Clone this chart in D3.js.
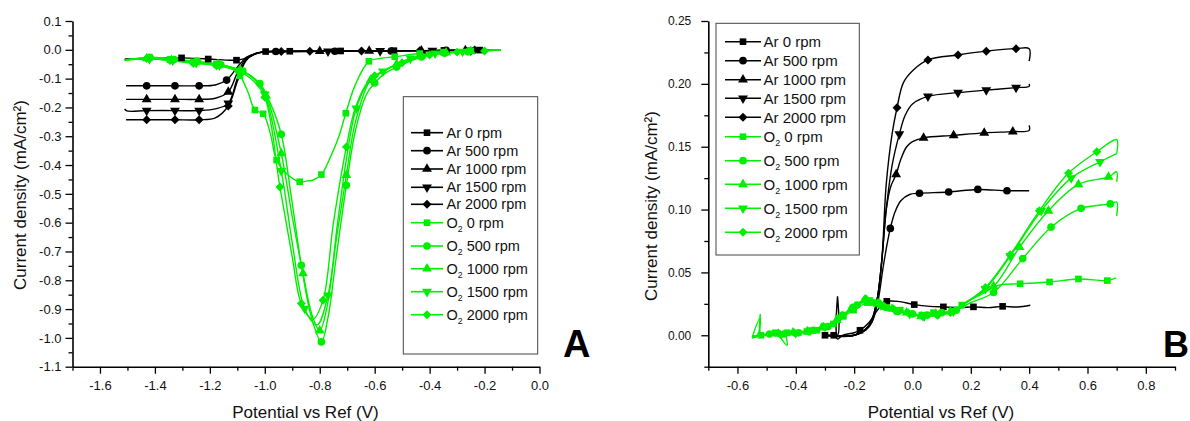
<!DOCTYPE html>
<html><head><meta charset="utf-8">
<script src="https://cdn.jsdelivr.net/npm/d3@7"></script>
<style>
html,body{margin:0;padding:0;background:#fff;}
svg{display:block;font-family:"Liberation Sans",Arial,Helvetica,sans-serif;}
</style></head><body>
<svg id="chart" width="1190" height="421"></svg>
<script>
// ---------------- DATA ----------------
// legend entries (gas, rotation rate)
const legendGas = ["Ar","Ar","Ar","Ar","Ar","O2","O2","O2","O2","O2"];
const legendRpm = ["0 rpm","500 rpm","1000 rpm","1500 rpm","2000 rpm","0 rpm","500 rpm","1000 rpm","1500 rpm","2000 rpm"];

// tick values
const aXTicks = [-1.6,-1.4,-1.2,-1.0,-0.8,-0.6,-0.4,-0.2,0.0];
const aXMinor = [-1.7,-1.5,-1.3,-1.1,-0.9,-0.7,-0.5,-0.3,-0.1];
const aYTicks = [0.1,0.0,-0.1,-0.2,-0.3,-0.4,-0.5,-0.6,-0.7,-0.8,-0.9,-1.0,-1.1];
const aYMinor = [0.05,-0.05,-0.15,-0.25,-0.35,-0.45,-0.55,-0.65,-0.75,-0.85,-0.95,-1.05];
const bXTicks = [-0.6,-0.4,-0.2,0.0,0.2,0.4,0.6,0.8];
const bXMinor = [-0.7,-0.5,-0.3,-0.1,0.1,0.3,0.5,0.7,0.9];
const bYTicks = [0.00,0.05,0.10,0.15,0.20,0.25];
const bYMinor = [-0.025,0.025,0.075,0.125,0.175,0.225];

// Panel A series: [potential V, current mA/cm2, marker flag]
const aAr0 = [[-1.51,-0.032,0],[-1.40,-0.030,0],[-1.303,-0.028,1],[-1.206,-0.032,1],[-1.103,-0.036,1],[-1.065,-0.028,0],[-1.03,-0.013,0],[-0.997,-0.006,1],[-0.909,-0.005,1],[-0.82,-0.005,0],[-0.724,-0.004,1],[-0.63,-0.004,0],[-0.53,-0.003,1],[-0.44,-0.003,0],[-0.348,-0.002,1],[-0.218,-0.001,1],[-0.16,0.0,0]];
const aAr500 = [[-1.505,-0.125,0],[-1.43,-0.125,1],[-1.327,-0.125,1],[-1.239,-0.125,1],[-1.18,-0.122,0],[-1.139,-0.105,1],[-1.10,-0.060,0],[-1.066,-0.025,0],[-1.03,-0.012,0],[-1.0,-0.007,0],[-0.96,-0.006,1],[-0.86,-0.005,0],[-0.745,-0.005,1],[-0.64,-0.004,0],[-0.54,-0.004,1],[-0.44,-0.003,0],[-0.34,-0.002,1],[-0.16,0.0,0]];
const aAr1000 = [[-1.505,-0.172,0],[-1.43,-0.172,1],[-1.327,-0.172,1],[-1.239,-0.172,1],[-1.18,-0.168,0],[-1.133,-0.146,1],[-1.10,-0.080,0],[-1.068,-0.030,0],[-1.03,-0.012,0],[-1.0,-0.007,0],[-0.93,-0.006,0],[-0.80,-0.005,1],[-0.62,-0.004,1],[-0.43,-0.003,1],[-0.27,-0.002,1],[-0.16,0.0,0]];
const aAr1500 = [[-1.51,-0.205,0],[-1.503,-0.212,0],[-1.43,-0.211,1],[-1.327,-0.211,1],[-1.239,-0.211,1],[-1.18,-0.205,0],[-1.133,-0.186,1],[-1.10,-0.100,0],[-1.068,-0.035,0],[-1.035,-0.014,0],[-1.0,-0.007,0],[-0.90,-0.006,0],[-0.77,-0.005,1],[-0.58,-0.004,1],[-0.39,-0.003,1],[-0.25,-0.002,1],[-0.16,0.0,0]];
const aAr2000 = [[-1.505,-0.243,0],[-1.43,-0.243,1],[-1.327,-0.243,1],[-1.239,-0.243,1],[-1.18,-0.236,0],[-1.133,-0.195,1],[-1.10,-0.110,0],[-1.07,-0.040,0],[-1.04,-0.015,0],[-1.0,-0.007,0],[-0.94,-0.006,1],[-0.836,-0.005,1],[-0.648,-0.004,1],[-0.436,-0.003,1],[-0.236,-0.001,1],[-0.16,0.0,0]];
const aO20 = [[-1.51,-0.036,0],[-1.42,-0.028,1],[-1.345,-0.033,1],[-1.26,-0.042,1],[-1.176,-0.050,1],[-1.12,-0.065,0],[-1.09,-0.090,1],[-1.06,-0.150,0],[-1.036,-0.209,1],[-1.006,-0.222,1],[-0.98,-0.290,0],[-0.957,-0.383,1],[-0.92,-0.430,0],[-0.873,-0.458,1],[-0.845,-0.455,0],[-0.824,-0.452,0],[-0.794,-0.433,1],[-0.76,-0.370,0],[-0.73,-0.300,0],[-0.705,-0.220,1],[-0.67,-0.120,0],[-0.621,-0.040,1],[-0.58,-0.030,0],[-0.527,-0.024,1],[-0.436,-0.013,1],[-0.35,-0.008,1],[-0.25,-0.004,1],[-0.14,0.0,0]];
const aO2500 = [[-1.51,-0.036,0],[-1.418,-0.026,1],[-1.33,-0.034,1],[-1.245,-0.040,1],[-1.16,-0.052,1],[-1.08,-0.075,1],[-1.018,-0.117,1],[-0.98,-0.185,0],[-0.94,-0.293,1],[-0.905,-0.500,0],[-0.867,-0.748,1],[-0.83,-0.930,0],[-0.794,-1.014,1],[-0.77,-0.930,0],[-0.74,-0.720,0],[-0.703,-0.470,1],[-0.67,-0.280,0],[-0.63,-0.155,0],[-0.60,-0.115,1],[-0.56,-0.080,0],[-0.52,-0.060,1],[-0.43,-0.025,1],[-0.345,-0.012,1],[-0.26,-0.007,1],[-0.14,0.0,0]];
const aO21000 = [[-1.51,-0.034,0],[-1.43,-0.030,1],[-1.34,-0.036,1],[-1.255,-0.044,1],[-1.17,-0.050,1],[-1.09,-0.070,1],[-1.04,-0.100,0],[-0.995,-0.160,1],[-0.94,-0.360,1],[-0.90,-0.580,0],[-0.861,-0.776,1],[-0.825,-0.930,0],[-0.80,-0.975,1],[-0.775,-0.900,0],[-0.74,-0.660,0],[-0.703,-0.435,1],[-0.67,-0.250,0],[-0.615,-0.105,1],[-0.56,-0.070,0],[-0.52,-0.050,1],[-0.43,-0.020,1],[-0.34,-0.010,1],[-0.25,-0.005,1],[-0.14,0.0,0]];
const aO21500 = [[-1.51,-0.035,0],[-1.42,-0.032,1],[-1.335,-0.037,1],[-1.25,-0.045,1],[-1.165,-0.053,1],[-1.085,-0.072,1],[-1.04,-0.100,0],[-1.0,-0.155,1],[-0.94,-0.420,1],[-0.90,-0.670,0],[-0.855,-0.898,1],[-0.81,-0.955,0],[-0.77,-0.852,1],[-0.735,-0.600,0],[-0.703,-0.380,0],[-0.667,-0.203,1],[-0.62,-0.110,0],[-0.57,-0.075,1],[-0.47,-0.030,1],[-0.38,-0.012,1],[-0.28,-0.006,1],[-0.14,0.0,0]];
const aO22000 = [[-1.51,-0.036,0],[-1.43,-0.030,1],[-1.345,-0.037,1],[-1.26,-0.047,1],[-1.176,-0.055,1],[-1.095,-0.075,1],[-1.045,-0.105,0],[-1.0,-0.165,1],[-0.945,-0.476,1],[-0.90,-0.720,0],[-0.867,-0.881,1],[-0.825,-0.935,0],[-0.788,-0.869,1],[-0.75,-0.600,0],[-0.703,-0.337,1],[-0.67,-0.200,0],[-0.62,-0.105,0],[-0.60,-0.090,1],[-0.50,-0.045,1],[-0.40,-0.018,1],[-0.30,-0.008,1],[-0.20,-0.004,1],[-0.14,0.0,0]];

// Panel B series
const bAr0 = [[-0.30,0.0,1],[-0.27,0.0,1],[-0.257,0.0,0],[-0.257,0.031,0],[-0.257,-0.003,0],[-0.24,0.0,0],[-0.20,0.002,0],[-0.18,0.004,1],[-0.15,0.010,0],[-0.12,0.020,0],[-0.10,0.026,0],[-0.088,0.027,1],[-0.05,0.027,0],[0.006,0.0244,1],[0.06,0.023,0],[0.106,0.0226,1],[0.16,0.022,0],[0.209,0.0226,1],[0.26,0.022,0],[0.309,0.023,1],[0.36,0.0225,0],[0.404,0.0239,0]];
const bAr500 = [[-0.30,0.0,0],[-0.25,-0.001,0],[-0.20,0.0,0],[-0.17,0.003,0],[-0.14,0.010,0],[-0.12,0.025,0],[-0.10,0.055,0],[-0.085,0.075,0],[-0.076,0.085,1],[-0.06,0.098,0],[-0.04,0.107,0],[-0.01,0.112,0],[0.024,0.113,1],[0.124,0.114,1],[0.224,0.116,1],[0.324,0.115,1],[0.40,0.115,0]];
const bAr1000 = [[-0.30,0.0,0],[-0.20,0.0,0],[-0.16,0.004,0],[-0.14,0.010,0],[-0.12,0.030,0],[-0.105,0.060,0],[-0.09,0.100,0],[-0.075,0.118,0],[-0.056,0.128,1],[-0.04,0.140,0],[-0.02,0.150,0],[0.0,0.154,0],[0.038,0.157,1],[0.141,0.159,1],[0.246,0.161,1],[0.344,0.162,1],[0.40,0.163,0],[0.40,0.167,0]];
const bAr1500 = [[-0.30,0.0,0],[-0.20,0.0,0],[-0.16,0.005,0],[-0.14,0.012,0],[-0.12,0.030,0],[-0.105,0.060,0],[-0.09,0.100,0],[-0.07,0.135,0],[-0.045,0.160,1],[-0.025,0.175,0],[0.0,0.184,0],[0.053,0.190,1],[0.156,0.193,1],[0.253,0.195,1],[0.355,0.197,1],[0.40,0.198,0],[0.40,0.200,0]];
const bAr2000 = [[-0.30,0.0,0],[-0.20,0.0,0],[-0.16,0.005,0],[-0.14,0.012,0],[-0.12,0.030,0],[-0.105,0.060,0],[-0.09,0.120,0],[-0.07,0.160,0],[-0.053,0.181,1],[-0.031,0.201,0],[0.003,0.211,0],[0.053,0.219,1],[0.156,0.223,1],[0.253,0.226,1],[0.355,0.228,1],[0.40,0.228,0],[0.40,0.218,0]];
const bO20 = [[-0.55,-0.002,0],[-0.53,0.0,0],[-0.522,0.0165,0],[-0.52,0.0,1],[-0.47,0.002,1],[-0.43,-0.008,0],[-0.43,0.002,1],[-0.362,0.003,1],[-0.328,0.004,1],[-0.271,0.009,1],[-0.237,0.015,1],[-0.202,0.020,1],[-0.156,0.026,1],[-0.134,0.026,1],[-0.088,0.022,1],[-0.042,0.020,1],[0.032,0.016,1],[0.072,0.018,1],[0.135,0.019,1],[0.169,0.024,1],[0.238,0.034,0],[0.30,0.040,0],[0.369,0.041,1],[0.47,0.0424,1],[0.569,0.0448,1],[0.668,0.0435,1],[0.698,0.0456,0]];
const bO2500 = [[-0.55,-0.002,0],[-0.522,0.014,0],[-0.52,0.0,0],[-0.49,0.001,1],[-0.44,0.001,1],[-0.39,0.002,1],[-0.34,0.004,1],[-0.29,0.007,1],[-0.24,0.016,1],[-0.19,0.024,1],[-0.145,0.027,1],[-0.10,0.023,1],[-0.05,0.019,1],[0.0,0.017,1],[0.05,0.016,1],[0.10,0.018,1],[0.15,0.020,1],[0.20,0.026,0],[0.278,0.034,1],[0.378,0.061,1],[0.475,0.086,1],[0.578,0.101,1],[0.678,0.1045,1],[0.70,0.106,0],[0.70,0.095,0]];
const bO21000 = [[-0.55,-0.001,0],[-0.50,0.001,0],[-0.46,0.001,1],[-0.41,0.002,1],[-0.36,0.003,1],[-0.31,0.006,1],[-0.26,0.012,1],[-0.21,0.021,1],[-0.165,0.028,1],[-0.12,0.025,1],[-0.07,0.021,1],[-0.02,0.018,1],[0.03,0.015,1],[0.08,0.017,1],[0.13,0.019,1],[0.18,0.026,0],[0.278,0.039,1],[0.367,0.070,1],[0.466,0.099,1],[0.569,0.120,1],[0.672,0.126,1],[0.70,0.130,0],[0.70,0.122,0]];
const bO21500 = [[-0.55,-0.001,0],[-0.50,0.0,0],[-0.45,0.001,1],[-0.40,0.002,1],[-0.35,0.004,1],[-0.30,0.007,1],[-0.25,0.014,1],[-0.20,0.022,1],[-0.15,0.028,1],[-0.11,0.024,1],[-0.06,0.020,1],[-0.01,0.017,1],[0.04,0.015,1],[0.09,0.017,1],[0.14,0.019,1],[0.19,0.027,0],[0.25,0.037,1],[0.335,0.063,1],[0.441,0.099,1],[0.544,0.125,1],[0.643,0.138,1],[0.70,0.1445,0]];
const bO22000 = [[-0.55,-0.002,0],[-0.51,0.0,0],[-0.455,0.001,1],[-0.405,0.002,1],[-0.355,0.003,1],[-0.305,0.007,1],[-0.255,0.013,1],[-0.205,0.022,1],[-0.16,0.029,1],[-0.115,0.026,1],[-0.065,0.021,1],[-0.015,0.018,1],[0.035,0.015,1],[0.085,0.016,1],[0.13,0.018,1],[0.19,0.027,0],[0.25,0.038,1],[0.335,0.064,1],[0.435,0.099,1],[0.535,0.129,1],[0.632,0.146,1],[0.70,0.1556,0],[0.70,0.1445,0]];

const panelAData = [aAr0,aAr500,aAr1000,aAr1500,aAr2000,aO20,aO2500,aO21000,aO21500,aO22000];
const panelBData = [bAr0,bAr500,bAr1000,bAr1500,bAr2000,bO20,bO2500,bO21000,bO21500,bO22000];

// ---------------- STYLE ----------------
const BLACK = "#000000", GREEN = "#00ee00";
const seriesColor = i => i < 5 ? BLACK : GREEN;
const seriesShape = i => i % 5; // 0 square,1 circle,2 triangle,3 inverted triangle,4 diamond

const svg = d3.select("#chart");

function markerPath(shape) {
  if (shape === 0) return {d: d3.symbol(d3.symbolSquare, 44)(), rot: 0};
  if (shape === 1) return {d: d3.symbol(d3.symbolCircle, 46)(), rot: 0};
  if (shape === 2) return {d: d3.symbol(d3.symbolTriangle, 42)(), rot: 0};
  if (shape === 3) return {d: d3.symbol(d3.symbolTriangle, 42)(), rot: 180};
  return {d: d3.symbol(d3.symbolSquare, 40)(), rot: 45};
}

function fmt(dec) {
  return d => { const v = Math.abs(d) < 1e-9 ? 0 : d; return v.toFixed(dec); };
}

function drawPanel(p) {
  const x = d3.scaleLinear().domain(p.xDomain).range(p.xRange);
  const y = d3.scaleLinear().domain(p.yDomain).range(p.yRange);
  const g = svg.append("g");
  const x0 = p.xRange[0], yB = p.yRange[0];

  // minor ticks
  g.append("g").attr("transform", `translate(0,${yB})`)
    .call(d3.axisBottom(x).tickValues(p.xMinor).tickSize(4).tickFormat("").tickSizeOuter(0))
    .call(s => s.select(".domain").remove());
  g.append("g").attr("transform", `translate(${x0},0)`)
    .call(d3.axisLeft(y).tickValues(p.yMinor).tickSize(4).tickFormat("").tickSizeOuter(0))
    .call(s => s.select(".domain").remove());

  // major axes
  const xa = g.append("g").attr("transform", `translate(0,${yB})`)
    .call(d3.axisBottom(x).tickValues(p.xTicks).tickSize(7).tickPadding(7).tickFormat(fmt(1)).tickSizeOuter(0));
  const ya = g.append("g").attr("transform", `translate(${x0},0)`)
    .call(d3.axisLeft(y).tickValues(p.yTicks).tickSize(7).tickPadding(p.yPad).tickFormat(fmt(p.yDec)).tickSizeOuter(0));
  [xa, ya].forEach(a => {
    a.select(".domain").attr("stroke-width", 1.6);
    a.selectAll(".tick text").attr("font-family", null).attr("fill", "#111");
  });
  xa.selectAll(".tick text").attr("font-size", p.xFont);
  ya.selectAll(".tick text").attr("font-size", p.yFont);
  g.selectAll(".tick line").attr("stroke-width", 1.3);

  // lines
  const line = d3.line().x(d => x(d[0])).y(d => y(d[1])).curve(d3.curveCatmullRom.alpha(0.5));
  p.data.forEach((s, i) => {
    g.append("path").attr("d", line(s)).attr("fill", "none")
      .attr("stroke", seriesColor(i)).attr("stroke-width", 1.4);
  });
  p.data.forEach((s, i) => {
    const m = markerPath(seriesShape(i));
    g.append("g").selectAll("path").data(s.filter(d => d[2] === 1)).join("path")
      .attr("d", m.d).attr("fill", seriesColor(i))
      .attr("transform", d => `translate(${x(d[0])},${y(d[1])}) rotate(${m.rot})`);
  });

  // axis titles
  svg.append("text").attr("x", p.xTitle[0]).attr("y", p.xTitle[1])
    .attr("text-anchor", "middle").attr("font-size", 17).attr("fill", "#111")
    .text("Potential vs Ref (V)");
  svg.append("text").attr("transform", `translate(${p.yTitle[0]},${p.yTitle[1]}) rotate(-90)`)
    .attr("text-anchor", "middle").attr("font-size", 17).attr("fill", "#111")
    .text("Current density (mA/cm²)");

  // panel letter
  svg.append("text").attr("x", p.letter[0]).attr("y", p.letter[1])
    .attr("font-size", p.letterSize).attr("font-weight", "bold").attr("fill", "#000").text(p.letterText);

  // legend
  const L = p.legend;
  svg.append("rect").attr("x", L.box[0]).attr("y", L.box[1]).attr("width", L.box[2]).attr("height", L.box[3])
    .attr("fill", "#fff").attr("stroke", "#444").attr("stroke-width", 1);
  legendGas.forEach((gas, i) => {
    const yy = L.rows[i];
    svg.append("line").attr("x1", L.lineX[0]).attr("x2", L.lineX[1]).attr("y1", yy).attr("y2", yy)
      .attr("stroke", seriesColor(i)).attr("stroke-width", 1.6);
    const m = markerPath(seriesShape(i));
    svg.append("path").attr("d", m.d).attr("fill", seriesColor(i))
      .attr("transform", `translate(${(L.lineX[0] + L.lineX[1]) / 2},${yy}) rotate(${m.rot})`);
    const t = svg.append("text").attr("x", L.textX).attr("y", yy + L.font * 0.35)
      .attr("font-size", L.font).attr("fill", "#111");
    if (gas === "O2") {
      t.append("tspan").text("O");
      t.append("tspan").attr("font-size", L.font * 0.6).attr("dy", 4).text("2");
      t.append("tspan").attr("dy", -4).text(" " + legendRpm[i]);
    } else {
      t.text(gas + " " + legendRpm[i]);
    }
  });
}

drawPanel({
  xDomain: [-1.7, 0.0], xRange: [72.5, 539.5],
  yDomain: [-1.1, 0.1], yRange: [366.7, 21],
  xTicks: aXTicks, xMinor: aXMinor, yTicks: aYTicks, yMinor: aYMinor,
  yDec: 1, yPad: 4, xFont: 13, yFont: 13,
  data: panelAData,
  xTitle: [305.5, 418], yTitle: [26, 195],
  letter: [563, 356.7], letterSize: 38, letterText: "A",
  legend: {box: [403.3, 96.7, 134.4, 257.3], rows: [132.7, 150.7, 169, 187.3, 204.3, 222.7, 246, 268.7, 291.7, 314.7],
           lineX: [411, 443], textX: 446.5, font: 14.5}
});
drawPanel({
  xDomain: [-0.7, 0.9], xRange: [708.3, 1175],
  yDomain: [-0.025, 0.25], yRange: [366.7, 21],
  xTicks: bXTicks, xMinor: bXMinor, yTicks: bYTicks, yMinor: bYMinor,
  yDec: 2, yPad: 10, xFont: 13, yFont: 12,
  data: panelBData,
  xTitle: [941, 418], yTitle: [657, 206],
  letter: [1163, 356.7], letterSize: 36, letterText: "B",
  legend: {box: [716, 23.3, 143.3, 231.7], rows: [41.7, 60.7, 79.7, 98.3, 117.3, 136.7, 160.7, 184.3, 208.3, 232.3],
           lineX: [725, 761], textX: 763.5, font: 15}
});
</script>
</body></html>
